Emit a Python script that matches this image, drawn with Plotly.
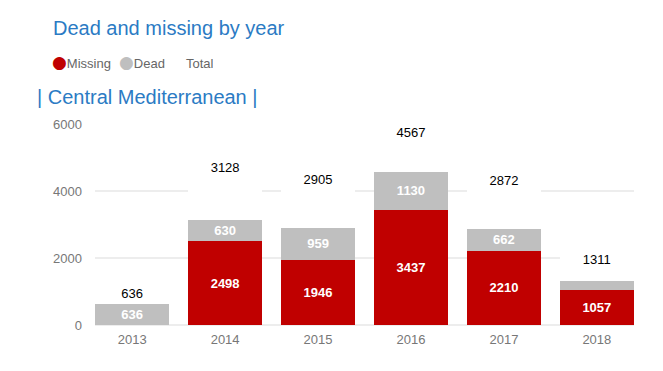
import plotly.graph_objects as go
import numpy as np

years = ["2013", "2014", "2015", "2016", "2017", "2018"]
missing = [0, 2498, 1946, 3437, 2210, 1057]
dead = [636, 630, 959, 1130, 662, 254]
totals = [636, 3128, 2905, 4567, 2872, 1311]

RED = "#C00000"
GREY = "#BFBFBF"
BLUE = "#2B7BC4"
Y_MAX = 6000

# white "Total" stack segment (label holder), capped above the axis ceiling
tot_arr = np.array(totals)
total_seg = np.minimum(tot_arr, Y_MAX * 1.15 - tot_arr)

miss_text = [str(v) if v > 0 else "" for v in missing]
dead_text = [str(v) for v in dead]

LBL_FONT = "Liberation Sans, Arial"

fig = go.Figure()
fig.add_bar(x=years, y=missing, name="Missing", marker=dict(color=RED, line=dict(width=0)),
            showlegend=False, text=miss_text, textposition="inside", insidetextanchor="middle",
            textfont=dict(color="white", size=13, family=LBL_FONT),
            texttemplate="<b>%{text}</b>", hoverinfo="skip")
fig.add_bar(x=years, y=dead, name="Dead", marker=dict(color=GREY, line=dict(width=0)),
            showlegend=False, text=dead_text, textposition="inside", insidetextanchor="middle",
            textfont=dict(color="white", size=13, family=LBL_FONT),
            texttemplate="<b>%{text}</b>", hoverinfo="skip")
fig.add_bar(x=years, y=total_seg, name="Total", marker=dict(color="white", line=dict(width=0)),
            showlegend=False, text=[str(v) for v in totals], textposition="inside",
            insidetextanchor="middle",
            textfont=dict(color="black", size=13, family=LBL_FONT),
            hoverinfo="skip")

def dot(col):
    return f"<span style='color:{col};font-size:17px;font-family:DejaVu Sans'>●</span>"

legend_items = [("Missing", dot(RED) + "Missing"), ("Dead", dot(GREY) + "Dead"), ("Total", "Total")]
for key, label in legend_items:
    fig.add_scatter(x=[None], y=[None], mode="markers", name=label,
                    marker=dict(symbol="circle", size=1, color="white", opacity=0))

# page body adds an 8px offset; figure is sized/positioned to compensate
OFF = 8
W, H = 663 - OFF, 371 - OFF
L, R, T, B = 95 - OFF, 29, 124 - OFF, 46

fig.update_layout(
    width=W, height=H,
    margin=dict(l=L, r=R, t=T, b=B),
    paper_bgcolor="white", plot_bgcolor="white",
    barmode="stack", bargap=0.2,
    uniformtext=dict(minsize=11, mode="hide"),
    font=dict(family="Segoe UI, Liberation Sans, Arial", color="#666666"),
    title=dict(text="Dead and missing by year", x=(53 - OFF) / W, xanchor="left",
               y=1 - (28 - OFF) / H, yanchor="middle",
               font=dict(size=20, color=BLUE, family="Segoe UI, Liberation Sans, Arial")),
    legend=dict(orientation="h", x=(52 - 40 - OFF) / W, xanchor="left", xref="container",
                y=1 - (63 - OFF) / H, yref="container", yanchor="middle",
                font=dict(size=13, color="#666666"), itemwidth=30, entrywidth=22,
                traceorder="normal"),
    xaxis=dict(range=[-0.4, 5.4], showgrid=False, showline=False, ticks="",
               ticklabelstandoff=5, tickfont=dict(size=13, color="#777777")),
    yaxis=dict(range=[0, Y_MAX], tickvals=[0, 2000, 4000, 6000], showgrid=True,
               gridcolor="#EDEDED", gridwidth=1.5, zeroline=True, zerolinecolor="#EDEDED",
               ticks="", ticklabelstandoff=12,
               tickfont=dict(size=13, color="#777777")),
)

plot_w = W - L - R
plot_h = H - T - B
fig.add_annotation(text="| Central Mediterranean |", xref="paper", yref="paper",
                   x=(35 - 95) / plot_w, xanchor="left",
                   y=(325 - 97) / plot_h, yanchor="middle", showarrow=False,
                   font=dict(size=20, color=BLUE, family="Segoe UI, Liberation Sans, Arial"))

fig.write_html("out.html")
